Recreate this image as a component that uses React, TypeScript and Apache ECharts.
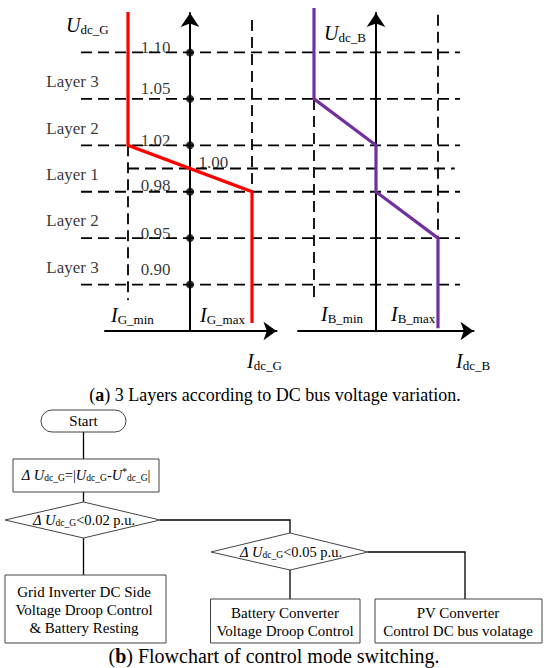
import React, { useEffect, useRef } from 'react';
import * as echarts from 'echarts';

// ---------------- data ----------------
// voltage thresholds (p.u.) and their schematic ordinate (equal step between thresholds, 1.00 in the middle)
const voltageTicks = ['0.90', '0.95', '0.98', '1.00', '1.02', '1.05', '1.10'];
const voltageLevels = [0, 1, 2, 2.5, 3, 4, 5];
const dotLevels = [0, 1, 2, 3, 4, 5];
const layerNames = ['Layer 3', 'Layer 2', 'Layer 1', 'Layer 2', 'Layer 3'];
const layerLevels = [0.5, 1.5, 2.5, 3.5, 4.5];
// grid inverter droop characteristic: current (in units of I_G_max) vs schematic voltage level
const gridCurrent = [-1, -1, 1, 1];
const gridLevel = [5.87, 3, 2, -0.83];
// battery converter droop characteristic
const batteryCurrent = [-1, -1, 0, 0, 1, 1];
const batteryLevel = [5.96, 4, 3, 2, 1, -0.94];
// current limits
const currentLimits = [-1, 1];
// flowchart texts
const startText = 'Start';
const thresholds = ['0.02', '0.05'];
const boxTexts = [
  'Grid Inverter DC Side\nVoltage Droop Control\n& Battery Resting',
  'Battery Converter\nVoltage Droop Control',
  'PV Converter\nControl DC bus volatage',
];
const captionA = ' 3 Layers according to DC bus voltage variation.';
const captionB = ' Flowchart of control mode switching.';

// ---------------- styles ----------------
const FONT = 'Liberation Serif';
const DASH = [11, 6];
const dashStyle = { color: '#000', width: 1.8, type: DASH };

function richSet(main: number, sub: number, subLH: number) {
  return {
    i: { fontFamily: FONT, fontStyle: 'italic', fontSize: main, lineHeight: main + 2, verticalAlign: 'middle', fill: '#000' },
    n: { fontFamily: FONT, fontSize: main, lineHeight: main + 2, verticalAlign: 'middle', fill: '#000' },
    s: { fontFamily: FONT, fontSize: sub, lineHeight: subLH, verticalAlign: 'bottom', fill: '#000' },
    p: { fontFamily: FONT, fontSize: sub, lineHeight: subLH, verticalAlign: 'top', fill: '#000' },
    b: { fontFamily: FONT, fontSize: main, fontWeight: 'bold', lineHeight: main + 2, verticalAlign: 'middle', fill: '#000' },
  };
}

function richText(x: number, y: number, text: string, rich: any, align = 'left') {
  return {
    type: 'text',
    x,
    y,
    silent: true,
    style: {
      text,
      rich,
      fill: '#000',
      fontFamily: FONT,
      align,
      verticalAlign: 'middle',
      textAlign: align,
      textVerticalAlign: 'middle',
    },
  };
}

function plainText(x: number, y: number, text: string, size: number, lineHeight?: number) {
  return {
    type: 'text',
    x,
    y,
    silent: true,
    style: {
      text,
      fill: '#000',
      fontFamily: FONT,
      fontSize: size,
      lineHeight: lineHeight || size + 2,
      align: 'center',
      verticalAlign: 'middle',
      textAlign: 'center',
      textVerticalAlign: 'middle',
    },
  };
}

const connector = (points: number[][]) => ({
  type: 'polyline',
  silent: true,
  shape: { points },
  style: { stroke: '#000', lineWidth: 1.3, fill: null },
});

const boxStyle = { fill: '#fff', stroke: '#444', lineWidth: 1 };

function buildOption() {
  const axisLineStyle = { color: '#000', width: 2 };
  const hiddenParts = {
    axisTick: { show: false },
    axisLabel: { show: false },
    splitLine: { show: false },
  };

  const series: any[] = [];

  // horizontal dashed threshold lines (background grid)
  dotLevels.forEach((l) => {
    series.push({
      type: 'line',
      xAxisIndex: 2,
      yAxisIndex: 2,
      data: [[-1.758, l], [4.355, l]],
      symbol: 'none',
      silent: true,
      lineStyle: dashStyle,
      z: 1,
    });
  });
  series.push({
    type: 'line',
    xAxisIndex: 2,
    yAxisIndex: 2,
    data: [[currentLimits[0], 2.5], [4.27, 2.5]],
    symbol: 'none',
    silent: true,
    lineStyle: dashStyle,
    z: 1,
  });

  // vertical dashed current-limit lines
  const vLines = [
    { axis: 0, x: currentLimits[0], from: 3, to: -0.33 },
    { axis: 0, x: currentLimits[1], from: 5.7, to: 2 },
    { axis: 1, x: currentLimits[0], from: 4, to: -0.33 },
    { axis: 1, x: currentLimits[1], from: 5.81, to: 1 },
  ];
  vLines.forEach((v) => {
    series.push({
      type: 'line',
      xAxisIndex: v.axis,
      yAxisIndex: v.axis,
      data: [[v.x, v.from], [v.x, v.to]],
      symbol: 'none',
      silent: true,
      clip: false,
      lineStyle: dashStyle,
      z: 1,
    });
  });

  // droop characteristics
  series.push({
    type: 'line',
    xAxisIndex: 0,
    yAxisIndex: 0,
    data: gridCurrent.map((c, i) => [c, gridLevel[i]]),
    symbol: 'none',
    clip: false,
    silent: true,
    lineStyle: { color: '#ff0000', width: 3.2, join: 'miter' },
    z: 3,
  });
  series.push({
    type: 'line',
    xAxisIndex: 1,
    yAxisIndex: 1,
    data: batteryCurrent.map((c, i) => [c, batteryLevel[i]]),
    symbol: 'none',
    clip: false,
    silent: true,
    lineStyle: { color: '#7030a0', width: 3.2, join: 'miter' },
    z: 3,
  });

  // dots on the voltage axis
  series.push({
    type: 'scatter',
    xAxisIndex: 0,
    yAxisIndex: 0,
    data: dotLevels.map((l) => [0, l]),
    symbol: 'circle',
    symbolSize: 8,
    itemStyle: { color: '#000' },
    silent: true,
    z: 5,
  });

  // voltage tick labels
  const tickOffsets: Record<string, number> = {
    '0.90': -15, '0.95': -5, '0.98': -6, '1.00': -6, '1.02': -5, '1.05': -10, '1.10': -5,
  };
  series.push({
    type: 'scatter',
    xAxisIndex: 0,
    yAxisIndex: 0,
    symbolSize: 1,
    itemStyle: { color: 'rgba(0,0,0,0)' },
    silent: true,
    z: 6,
    data: voltageLevels.map((l, i) => ({
      value: [0, l],
      label: {
        show: true,
        formatter: voltageTicks[i],
        position: voltageTicks[i] === '1.00' ? 'right' : 'left',
        distance: voltageTicks[i] === '1.00' ? 8 : 19,
        offset: [0, tickOffsets[voltageTicks[i]]],
        fontFamily: FONT,
        fontSize: 17,
        color: '#000',
      },
    })),
  });

  // layer labels
  series.push({
    type: 'scatter',
    xAxisIndex: 2,
    yAxisIndex: 2,
    symbolSize: 1,
    itemStyle: { color: 'rgba(0,0,0,0)' },
    silent: true,
    z: 6,
    data: layerLevels.map((l, i) => ({
      value: [-1.895, l],
      label: {
        show: true,
        formatter: layerNames[i],
        position: 'inside',
        offset: [0, 6],
        fontFamily: FONT,
        fontSize: 17,
        color: '#000',
      },
    })),
  });

  // ---------- graphic annotations ----------
  const axRich = richSet(20, 13, 5);
  const flowRich = richSet(14.5, 9.5, 4);
  const capRichA = richSet(18, 12, 8);
  const capRichB = richSet(20, 12, 8);

  const graphic: any[] = [
    // axis names
    richText(66, 25, '{i|U}{s|dc_G}', axRich),
    richText(324, 33, '{i|U}{s|dc_B}', axRich),
    richText(111, 315, '{i|I}{s|G_min}', axRich),
    richText(200, 315, '{i|I}{s|G_max}', axRich),
    richText(321, 314, '{i|I}{s|B_min}', axRich),
    richText(391, 314, '{i|I}{s|B_max}', axRich),
    richText(247, 361, '{i|I}{s|dc_G}', axRich),
    richText(456, 361, '{i|I}{s|dc_B}', axRich),
    // caption (a)
    richText(275, 395, '{n|(}{b|a}{n|)}{n|' + captionA + '}', capRichA, 'center'),

    // flowchart connectors
    connector([[83.5, 432], [83.5, 459]]),
    connector([[83.5, 492], [83.5, 502]]),
    connector([[160, 520], [290, 520], [290, 533]]),
    connector([[83.5, 538], [83.5, 575]]),
    connector([[290, 570], [290, 599]]),
    connector([[368, 552], [465, 552], [465, 599]]),

    // flowchart shapes
    { type: 'rect', silent: true, shape: { x: 41, y: 410, width: 85, height: 22, r: 11 }, style: boxStyle },
    { type: 'rect', silent: true, shape: { x: 13, y: 459, width: 146, height: 33 }, style: boxStyle },
    { type: 'polygon', silent: true, shape: { points: [[5, 520], [83.5, 502], [160, 520], [83.5, 538]] }, style: boxStyle },
    { type: 'polygon', silent: true, shape: { points: [[211, 552], [290, 533], [368, 552], [290, 570]] }, style: boxStyle },
    { type: 'rect', silent: true, shape: { x: 5, y: 575, width: 161, height: 68 }, style: boxStyle },
    { type: 'rect', silent: true, shape: { x: 210.5, y: 599, width: 149.5, height: 44 }, style: boxStyle },
    { type: 'rect', silent: true, shape: { x: 375, y: 599, width: 167, height: 44 }, style: boxStyle },

    // flowchart texts
    plainText(83.5, 421, startText, 15),
    richText(
      86,
      475,
      '{i|Δ }{i|U}{s|dc_G}{n|=|}{i|U}{s|dc_G}{n|-}{i|U}{p|*}{s|dc_G}{n||}',
      flowRich,
      'center'
    ),
    richText(84, 520, '{i|Δ }{i|U}{s|dc_G}{n|<' + thresholds[0] + ' p.u.}', flowRich, 'center'),
    richText(291, 552, '{i|Δ }{i|U}{s|dc_G}{n|<' + thresholds[1] + ' p.u.}', flowRich, 'center'),
    plainText(84, 610, boxTexts[0], 15, 18),
    plainText(285, 622, boxTexts[1], 15, 18),
    plainText(458, 622, boxTexts[2], 15, 18),
    // caption (b)
    richText(274, 656, '{n|(}{b|b}{n|)}{n|' + captionB + '}', capRichB, 'center'),
  ];

  return {
    animation: false,
    backgroundColor: '#ffffff',
    grid: [
      { left: 105, top: 13, width: 171.5, height: 318 },
      { left: 298, top: 13, width: 175.5, height: 318 },
      { left: 20, top: 13, width: 480, height: 318 },
    ],
    xAxis: [
      {
        type: 'value', gridIndex: 0, min: -1.371, max: 1.395,
        axisLine: { onZero: false, lineStyle: axisLineStyle, symbol: ['none', 'arrow'], symbolSize: [14, 13] },
        ...hiddenParts,
      },
      {
        type: 'value', gridIndex: 1, min: -1.258, max: 1.573,
        axisLine: { onZero: false, lineStyle: axisLineStyle, symbol: ['none', 'arrow'], symbolSize: [14, 13] },
        ...hiddenParts,
      },
      { type: 'value', gridIndex: 2, min: -2.742, max: 5.0, show: false },
    ],
    yAxis: [
      {
        type: 'value', gridIndex: 0, min: -1, max: 5.85,
        axisLine: { onZero: true, lineStyle: axisLineStyle, symbol: ['none', 'arrow'], symbolSize: [14, 14] },
        ...hiddenParts,
      },
      {
        type: 'value', gridIndex: 1, min: -1, max: 5.85,
        axisLine: { onZero: true, lineStyle: axisLineStyle, symbol: ['none', 'arrow'], symbolSize: [14, 14] },
        ...hiddenParts,
      },
      { type: 'value', gridIndex: 2, min: -1, max: 5.85, show: false },
    ],
    series,
    graphic,
  };
}

export default function App() {
  const ref = useRef<HTMLDivElement>(null);
  useEffect(() => {
    document.body.style.margin = '0';
    const chart = echarts.init(ref.current as HTMLDivElement, null, { renderer: 'svg' });
    chart.setOption(buildOption() as any);
    return () => chart.dispose();
  }, []);
  return <div ref={ref} style={{ width: 550, height: 668 }} />;
}
